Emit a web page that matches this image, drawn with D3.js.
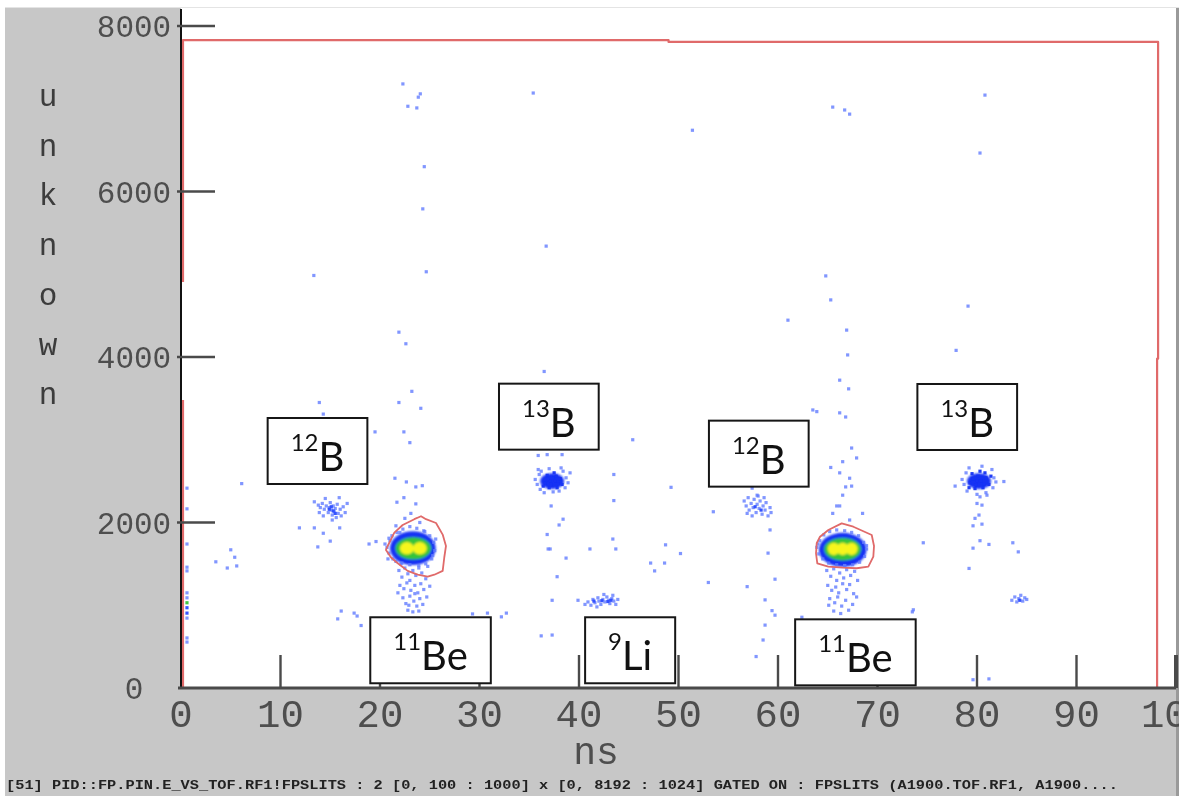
<!DOCTYPE html>
<html>
<head>
<meta charset="utf-8">
<script src="https://cdn.jsdelivr.net/npm/d3@7"></script>
<style>
  html, body { margin: 0; padding: 0; background: #fff; overflow: hidden; }
  svg { display: block; }
</style>
</head>
<body>
<svg id="chart" width="1179" height="796"></svg>
<script>
// ---- axes ----
const xTicks = [0, 10, 20, 30, 40, 50, 60, 70, 80, 90, 100];
const yTicks = [0, 2000, 4000, 6000, 8000];
const xTitle = "ns";
const yTitle = "unknown";
const statusLine = "[51] PID::FP.PIN.E_VS_TOF.RF1!FPSLITS : 2 [0, 100 : 1000] x [0, 8192 : 1024] GATED ON : FPSLITS (A1900.TOF.RF1, A1900....";

// ---- histogram bins: [tof (ns), energy, counts] ----
const hitsEdge = [
  [0.6, 2415], [0.6, 2165], [0.6, 1740], [0.6, 1460], [0.6, 1415], [0.6, 1150],
  [0.6, 1090], [0.6, 1030, 5], [0.6, 970, 2], [0.6, 905, 2], [0.6, 845], [0.6, 605], [0.6, 555]
];

const hitsSparse = [
  [22.3, 7300], [24.05, 7180], [23.85, 7140], [22.8, 7030], [23.7, 7010], [35.4, 7190],
  [51.4, 6740], [65.5, 7020], [66.7, 6985], [67.2, 6935], [80.8, 7165], [80.3, 6465],
  [24.45, 6300], [24.3, 5790], [36.7, 5340], [13.35, 4985], [24.65, 5030], [64.8, 4980],
  [65.3, 4690], [66.9, 4325], [67.0, 4025], [61.0, 4445], [79.1, 4615], [77.9, 4080],
  [21.9, 4300], [22.6, 4160], [36.5, 3825], [23.2, 3585], [13.9, 3450], [21.9, 3450],
  [24.1, 3380], [14.3, 3310], [19.5, 3095], [22.4, 3095], [23.0, 2965], [45.4, 3000], [63.5, 3360],
  [66.2, 3720], [67.1, 3615], [63.9, 3340], [66.2, 3325], [66.8, 3275], [67.4, 2900],
  [67.9, 2780], [66.5, 2735], [65.3, 2665], [66.2, 2600], [67.2, 2535], [66.8, 2430],
  [67.4, 2440], [66.5, 2330], [65.9, 2200], [66.2, 2200], [65.5, 2110], [68.5, 2110], [67.2, 2030],
  [6.1, 2470], [21.5, 2535], [22.65, 2490], [23.6, 2430], [24.25, 2445], [43.5, 2580],
  [49.25, 2425], [43.5, 2265], [22.4, 2300], [21.7, 2245], [23.6, 2225],
  [11.9, 1935], [13.4, 1935], [14.3, 1870], [15.0, 1775], [15.95, 1935], [13.75, 1705],
  [5.0, 1670], [3.5, 1525], [5.4, 1580], [4.65, 1450], [5.6, 1475], [18.9, 1740], [19.6, 1770],
  [37.2, 2200], [38.4, 2040], [38.0, 1970], [36.8, 1855], [36.9, 1680], [37.1, 1680],
  [38.7, 1570], [37.8, 1345], [37.3, 1060], [36.2, 630], [37.3, 640],
  [41.1, 1680], [43.4, 1800], [43.7, 1680], [39.9, 1060], [47.2, 1510], [47.6, 1415],
  [48.6, 1510], [48.7, 1730], [50.2, 1625],
  [16.1, 930], [15.75, 835], [17.4, 905], [17.7, 870], [18.1, 755], [29.3, 895], [30.8, 905],
  [32.2, 860], [32.7, 905],
  [53.5, 2130], [59.2, 1910], [59.0, 1630], [53.0, 1275], [59.7, 1315], [56.9, 1225],
  [58.7, 1065], [59.4, 935], [59.7, 880], [62.4, 855], [58.5, 580], [57.8, 380], [58.7, 760],
  [73.5, 920], [73.6, 945], [79.6, 100], [81.2, 110], [57.4, 2415], [57.9, 2330],
  [74.6, 1755], [83.6, 1755], [84.15, 1645], [79.2, 1445], [82.7, 2495], [77.8, 2440],
  [80.3, 2310], [80.0, 2230], [80.5, 2210], [80.2, 2090], [79.8, 2050], [79.6, 1960],
  [80.5, 1980], [80.3, 1780], [81.2, 1735], [79.6, 1690]
];

const hits12B = [
  [13.4, 2250], [13.8, 2210], [14.0, 2180], [14.2, 2230], [14.4, 2160], [14.5, 2290],
  [14.6, 2200], [14.8, 2120], [14.9, 2180], [15.0, 2240], [15.1, 2150], [15.2, 2090],
  [15.3, 2200], [15.4, 2130], [15.5, 2170], [15.6, 2060], [15.7, 2220], [15.8, 2110],
  [16.0, 2160], [16.1, 2080], [16.3, 2190], [16.5, 2120], [16.7, 2230], [14.3, 2080],
  [15.9, 2300], [15.2, 2030], [13.9, 2120],
  [14.9, 2160, 2], [15.3, 2140, 2], [15.1, 2190, 2], [15.5, 2110, 2],
  [56.6, 2260], [56.8, 2200], [57.0, 2300], [57.1, 2150], [57.3, 2230], [57.5, 2180],
  [57.6, 2280], [57.8, 2120], [57.9, 2220], [58.1, 2170], [58.2, 2260], [58.4, 2100],
  [58.5, 2200], [58.7, 2150], [58.8, 2240], [59.0, 2080], [59.2, 2180], [59.3, 2120],
  [57.4, 2080], [58.0, 2320], [56.9, 2110], [58.6, 2300], [57.7, 2190, 2], [58.3, 2150, 2]
];

const hits13B = [
  [36.6, 2480, 3], [36.9, 2520, 3], [37.2, 2460, 3], [37.4, 2540, 3], [37.6, 2500, 3],
  [37.9, 2470, 3], [38.1, 2530, 3], [37.0, 2420, 3], [37.8, 2420, 3], [36.8, 2570, 3],
  [37.5, 2600, 3], [38.3, 2460, 3], [36.4, 2440, 3], [37.1, 2500, 3], [37.7, 2560, 3],
  [35.6, 2520], [35.8, 2460], [36.0, 2580], [36.1, 2400], [36.2, 2620], [38.6, 2420],
  [38.7, 2540], [38.9, 2480], [39.1, 2600], [38.4, 2620], [36.5, 2360], [37.4, 2370],
  [38.0, 2380], [35.9, 2640], [37.0, 2650], [38.2, 2660], [35.9, 2810], [36.8, 2820], [38.3, 2820],
  [79.3, 2480, 3], [79.6, 2530, 3], [79.9, 2450, 3], [80.1, 2560, 3], [80.4, 2500, 3],
  [80.7, 2470, 3], [80.9, 2540, 3], [79.8, 2410, 3], [80.6, 2420, 3], [79.5, 2590, 3],
  [80.3, 2620, 3], [81.2, 2460, 3], [79.2, 2420, 3], [80.0, 2500, 3], [80.8, 2600, 3], [81.4, 2560, 3],
  [78.5, 2520], [78.7, 2460], [78.9, 2600], [79.0, 2380], [81.6, 2420], [81.7, 2540],
  [81.9, 2490], [81.5, 2640], [80.0, 2340], [80.9, 2360], [79.2, 2660], [80.5, 2680], [81.0, 2330]
];

const hits9Li = [
  [40.6, 1010], [40.9, 1040], [41.2, 1000], [41.4, 1070], [41.6, 1030], [41.9, 1090],
  [42.0, 1050], [42.2, 1010], [42.4, 1070], [42.6, 1040], [42.8, 1100], [43.0, 1060],
  [43.1, 1020], [43.3, 1080], [43.5, 1050], [43.7, 1010], [43.9, 1070], [42.5, 1130],
  [41.8, 980], [43.4, 1120], [42.3, 1055, 2], [42.9, 1045, 2], [43.2, 1060, 2], [41.5, 1050, 2],
  [83.5, 1060], [83.8, 1100], [84.0, 1040], [84.2, 1080], [84.4, 1120], [84.6, 1050],
  [84.8, 1090], [85.0, 1070], [84.3, 1060, 2]
];

const hits11Be = [
  // halo and tail, left group
  [20.7, 1700], [20.9, 1630], [21.0, 1780], [21.3, 1560], [21.2, 1840], [21.7, 1880],
  [22.3, 1920], [23.0, 1950], [23.7, 1930], [24.4, 1900], [25.0, 1840], [25.4, 1760],
  [25.5, 1660], [25.2, 1560], [24.6, 1500], [23.9, 1480], [23.0, 1490], [22.2, 1510],
  [21.6, 1530], [20.5, 1740], [21.6, 1960], [22.5, 2050], [23.1, 2110], [24.0, 2000],
  [22.0, 1880], [24.5, 1890], [20.9, 1810], [25.6, 1800], [25.3, 1600], [20.8, 1560],
  [21.9, 1420], [22.2, 1340], [22.5, 1450], [22.8, 1380], [23.0, 1300], [23.3, 1420],
  [23.6, 1360], [23.9, 1450], [24.2, 1390], [24.6, 1320], [22.0, 1240], [22.4, 1200],
  [22.7, 1270], [23.1, 1180], [23.5, 1240], [23.8, 1150], [24.1, 1260], [24.4, 1190],
  [22.3, 1090], [22.6, 1020], [23.0, 1110], [23.4, 1050], [23.7, 990], [24.0, 1080],
  [24.3, 1010], [22.8, 940], [23.3, 920], [23.9, 930], [24.7, 1100], [21.8, 1150],
  [25.0, 1230], [22.1, 1500], [24.8, 1470], [22.9, 1000], [23.5, 1140],
  // halo and tail, right group
  [63.9, 1700], [64.1, 1620], [64.2, 1780], [64.5, 1560], [64.6, 1850], [65.2, 1890],
  [65.9, 1910], [66.7, 1900], [67.4, 1880], [68.1, 1840], [68.6, 1760], [68.9, 1680],
  [68.7, 1590], [68.2, 1520], [67.5, 1490], [66.7, 1480], [65.9, 1490], [65.1, 1510],
  [64.0, 1740], [68.9, 1720],
  [64.9, 1420], [65.3, 1350], [65.6, 1440], [65.9, 1300], [66.2, 1390], [66.6, 1330],
  [66.9, 1430], [67.3, 1360], [67.7, 1410], [68.0, 1300], [65.0, 1240], [65.4, 1180],
  [65.8, 1220], [66.1, 1150], [66.5, 1260], [66.9, 1190], [67.2, 1250], [67.6, 1140],
  [65.2, 1080], [65.7, 1030], [66.0, 1100], [66.4, 990], [66.8, 1060], [67.1, 940],
  [67.5, 1010], [65.6, 930], [66.3, 900], [67.9, 1100], [65.1, 1000], [66.7, 1480]
];

// dense cores of the 2D histogram: centre, half-widths (data units), count level
const coreCells = [
  { x: 23.3, y: 1690, rx: 2.3, ry: 205, level: 3 },
  { x: 23.35, y: 1688, rx: 1.8, ry: 135, level: 5 },
  { x: 22.7, y: 1688, rx: 0.7, ry: 75, level: 8 },
  { x: 24.0, y: 1688, rx: 0.7, ry: 75, level: 8 },
  { x: 66.5, y: 1670, rx: 2.4, ry: 205, level: 3 },
  { x: 66.5, y: 1677, rx: 1.85, ry: 135, level: 5 },
  { x: 65.6, y: 1680, rx: 0.6, ry: 75, level: 8 },
  { x: 66.5, y: 1680, rx: 0.6, ry: 75, level: 8 },
  { x: 67.4, y: 1680, rx: 0.6, ry: 75, level: 8 },
  { x: 37.3, y: 2500, rx: 1.2, ry: 95, level: 3 },
  { x: 80.2, y: 2500, rx: 1.2, ry: 95, level: 3 }
];

// gates
const gateWindowUpper = [[0.2, 4906], [0.2, 7830], [49, 7830], [49, 7808], [98.2, 7808], [98.2, 3980], [98.1, 3980], [98.1, 0]];
const gateWindowLower = [[0.2, 3480], [0.2, 0]];
const gate11BeLeft = [
  [20.77, 1716], [21.44, 1878], [22.28, 1970], [23.45, 2040], [24.12, 2076], [24.62, 2040],
  [25.63, 1994], [26.3, 1854], [26.63, 1716], [26.46, 1577], [26.3, 1415], [25.46, 1369],
  [24.79, 1346], [23.79, 1369], [22.78, 1415], [21.78, 1508], [21.11, 1577], [20.6, 1669]
];
const gate11BeRight = [
  [63.89, 1749], [64.22, 1828], [65.06, 1909], [66.4, 1990], [67.57, 1949], [69.42, 1849],
  [69.65, 1716], [69.58, 1587], [69.08, 1466], [67.91, 1447], [66.56, 1454], [65.06, 1466],
  [63.95, 1507], [63.82, 1628]
];

// isotope tags: mass number, element, anchor (box centre in data units)
const tagMass = ["12", "13", "12", "13", "11", "9", "11"];
const tagElement = ["B", "B", "B", "B", "Be", "Li", "Be"];
const tagX = [13.72, 36.97, 58.07, 79.02, 25.08, 45.14, 67.78];
const tagY = [2864, 3279, 2832, 3275, 456, 456, 431];

// ---- drawing ----
const W = 1179, H = 796;
const svg = d3.select("#chart");
const x = d3.scaleLinear().domain([0, 100]).range([181, 1176]);
const y = d3.scaleLinear().domain([0, 8000]).range([688, 26]);

const defs = svg.append("defs");
defs.append("filter").attr("id", "soft").attr("x", "-20%").attr("y", "-20%").attr("width", "140%").attr("height", "140%")
  .append("feGaussianBlur").attr("stdDeviation", 0.55);
defs.append("filter").attr("id", "softer").attr("x", "-30%").attr("y", "-30%").attr("width", "160%").attr("height", "160%")
  .append("feGaussianBlur").attr("stdDeviation", 1.1);

// window frame
svg.append("rect").attr("width", W).attr("height", H).attr("fill", "#ffffff");
svg.append("rect").attr("x", 5).attr("y", 8).attr("width", W - 5).attr("height", H - 8).attr("fill", "#c7c7c7");
svg.append("rect").attr("x", x(0)).attr("y", 8).attr("width", x(100) - x(0)).attr("height", y(0) - 8).attr("fill", "#ffffff");
svg.append("line").attr("x1", 5).attr("x2", W).attr("y1", 7.5).attr("y2", 7.5).attr("stroke", "#e4e4e4").attr("stroke-width", 1);
svg.append("rect").attr("x", x(100)).attr("y", 8).attr("width", W - x(100)).attr("height", H - 8).attr("fill", "#9a9a9a");

// colour per bin content
function binColour(c) {
  if (c >= 8) return "#f6f61e";
  if (c >= 5) return "#36c43a";
  if (c >= 3) return "#1432f4";
  if (c >= 2) return "#2d4cff";
  return "#5d78ff";
}

const plot = svg.append("g");

// dense cores
plot.append("g").attr("filter", "url(#softer)")
  .selectAll("ellipse").data(coreCells).join("ellipse")
  .attr("cx", d => x(d.x)).attr("cy", d => y(d.y))
  .attr("rx", d => x(d.x + d.rx) - x(d.x))
  .attr("ry", d => y(d.y) - y(d.y + d.ry))
  .attr("fill", d => binColour(d.level));

// single bins
const allHits = [].concat(hitsEdge, hitsSparse, hits12B, hits13B, hits9Li, hits11Be);
plot.append("g").attr("filter", "url(#soft)")
  .selectAll("rect").data(allHits).join("rect")
  .attr("x", d => x(d[0]) - 1.6).attr("y", d => y(d[1]) - 1.6)
  .attr("width", 3.2).attr("height", 3.2)
  .attr("fill", d => binColour(d[2] || 1))
  .attr("opacity", d => (d[2] || 1) >= 2 ? 0.95 : 0.78);

// gates
const gateLine = d3.line().x(d => x(d[0])).y(d => y(d[1]));
const gates = svg.append("g").attr("fill", "none").attr("stroke", "#e06a6a").attr("stroke-linejoin", "round");
gates.append("path").attr("d", gateLine(gateWindowUpper)).attr("stroke-width", 2.2);
gates.append("path").attr("d", gateLine(gateWindowLower)).attr("stroke-width", 2.2);
gates.append("path").attr("d", gateLine(gate11BeLeft) + "Z").attr("stroke-width", 1.8);
gates.append("path").attr("d", gateLine(gate11BeRight) + "Z").attr("stroke-width", 1.8);

// axes
const axes = svg.append("g");
axes.append("line").attr("x1", x(0)).attr("x2", x(0)).attr("y1", 9).attr("y2", y(0))
  .attr("stroke", "#111").attr("stroke-width", 2);
axes.append("line").attr("x1", x(0) - 3).attr("x2", x(100)).attr("y1", y(0)).attr("y2", y(0))
  .attr("stroke", "#4a4a4a").attr("stroke-width", 3);

axes.selectAll("line.xt").data(xTicks.filter(t => t > 0)).join("line").attr("class", "xt")
  .attr("x1", d => x(d)).attr("x2", d => x(d)).attr("y1", y(0)).attr("y2", y(0) - 33)
  .attr("stroke", "#4a4a4a").attr("stroke-width", d => d === 100 ? 4 : 2.4);

axes.selectAll("line.yt").data(yTicks.filter(t => t > 0)).join("line").attr("class", "yt")
  .attr("x1", x(0) - 4).attr("x2", x(0) + 34).attr("y1", d => y(d)).attr("y2", d => y(d))
  .attr("stroke", "#4a4a4a").attr("stroke-width", 2.4);

axes.selectAll("text.xl").data(xTicks).join("text").attr("class", "xl")
  .attr("x", d => x(d)).attr("y", 727)
  .attr("text-anchor", "middle")
  .attr("font-family", "'Liberation Mono', 'DejaVu Sans Mono', monospace")
  .attr("font-size", 39).attr("fill", "#4e4e4e")
  .text(d => d);

axes.selectAll("text.yl").data(yTicks).join("text").attr("class", "yl")
  .attr("x", 134).attr("y", d => y(d) + 11)
  .attr("text-anchor", "middle")
  .attr("font-family", "'Liberation Mono', 'DejaVu Sans Mono', monospace")
  .attr("font-size", 31).attr("fill", "#4e4e4e")
  .text(d => d);

axes.append("text").attr("x", 596).attr("y", 764).attr("text-anchor", "middle")
  .attr("font-family", "'Liberation Mono', 'DejaVu Sans Mono', monospace")
  .attr("font-size", 38).attr("fill", "#4e4e4e").text(xTitle);

axes.selectAll("text.ytitle").data(yTitle.split("")).join("text").attr("class", "ytitle")
  .attr("x", 48).attr("y", (d, i) => 106 + i * 49.7)
  .attr("text-anchor", "middle")
  .attr("font-family", "'Liberation Mono', 'DejaVu Sans Mono', monospace")
  .attr("font-size", 31).attr("fill", "#3c3c3c")
  .text(d => d);

svg.append("text").attr("x", 6).attr("y", 789)
  .attr("font-family", "'Liberation Mono', 'DejaVu Sans Mono', monospace")
  .attr("font-size", 12).attr("font-weight", "bold").attr("fill", "#222")
  .attr("textLength", 1112).attr("lengthAdjust", "spacingAndGlyphs")
  .text(statusLine);

// isotope tags
const tags = svg.append("g");
tagMass.forEach((m, i) => {
  const cx = x(tagX[i]), cy = y(tagY[i]);
  const g = tags.append("g");
  const box = g.append("rect");
  const t = g.append("text").attr("x", cx).attr("y", cy + 20)
    .attr("text-anchor", "middle")
    .attr("font-family", "Lato, 'Open Sans', sans-serif").attr("fill", "#111");
  t.append("tspan").attr("font-size", 24).attr("dy", -20).text(m);
  t.append("tspan").attr("font-size", 40).attr("dy", 20).text(tagElement[i]);
  const w = t.node().getComputedTextLength() + 46;
  box.attr("x", cx - w / 2).attr("y", cy - 33).attr("width", w).attr("height", 66)
    .attr("fill", "#fff").attr("stroke", "#161616").attr("stroke-width", 2);
});
</script>
</body>
</html>
